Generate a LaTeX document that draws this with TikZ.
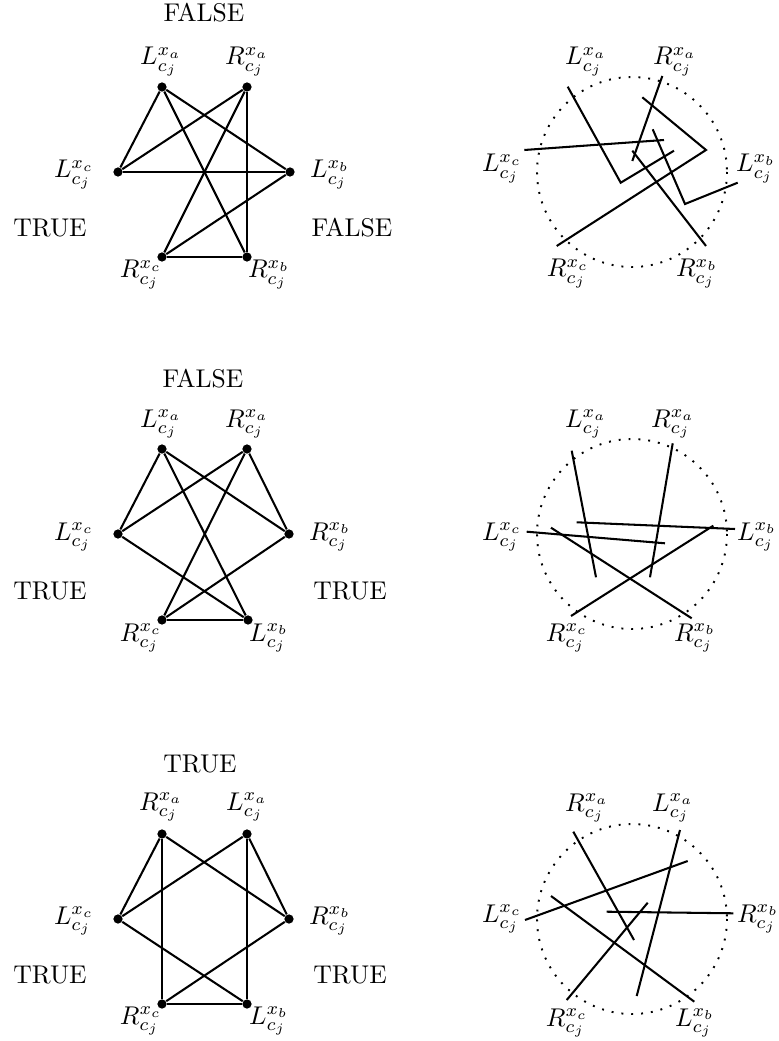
\documentclass[tikz,border=0pt]{standalone}
\begin{document}
\begin{tikzpicture}[x=0.39pt,y=-0.39pt,
  vert/.style={circle,fill=black,inner sep=0pt,minimum size=3.6pt},
  edge/.style={line width=0.8pt},
  seg/.style={line width=0.8pt},
  lab/.style={anchor=base,inner sep=0pt},
  word/.style={anchor=base,inner sep=0pt},
  ring/.style={line width=0.75pt,dash pattern=on 0.75pt off 3.1pt}]
\useasboundingbox (0,0) rectangle (778,1041);

% ---------------- Row 1 left ----------------
\node[vert] (p1La) at (162,87) {};
\node[vert] (p1Ra) at (247,87) {};
\node[vert] (p1Lc) at (118,172) {};
\node[vert] (p1Lb) at (290,172) {};
\node[vert] (p1Rc) at (162,257) {};
\node[vert] (p1Rb) at (247,257) {};
\draw[edge] (p1La) -- (p1Lc);
\draw[edge] (p1La) -- (p1Lb);
\draw[edge] (p1La) -- (p1Rb);
\draw[edge] (p1Ra) -- (p1Lc);
\draw[edge] (p1Ra) -- (p1Rc);
\draw[edge] (p1Ra) -- (p1Rb);
\draw[edge] (p1Lc) -- (p1Lb);
\draw[edge] (p1Lb) -- (p1Rc);
\draw[edge] (p1Rc) -- (p1Rb);
\node[lab] (t1La) at (161,65) {$L^{x_a}_{c_j}$};
\node[lab] (t1Ra) at (247,65) {$R^{x_a}_{c_j}$};
\node[lab] (t1Lc) at (74,178) {$L^{x_c}_{c_j}$};
\node[lab] (t1Lb) at (330,178) {$L^{x_b}_{c_j}$};
\node[lab] (t1Rc) at (141,278) {$R^{x_c}_{c_j}$};
\node[lab] (t1Rb) at (269,278) {$R^{x_b}_{c_j}$};
\node[word] (w1t) at (204,22) {FALSE};
\node[word] (w1l) at (50,237) {TRUE};
\node[word] (w1r) at (352,237) {FALSE};

% ---------------- Row 1 right ----------------
\draw[ring] (632,172) circle[radius=95];
\node[lab] (u1La) at (586,65) {$L^{x_a}_{c_j}$};
\node[lab] (u1Ra) at (675,65) {$R^{x_a}_{c_j}$};
\node[lab] (u1Lc) at (502,172) {$L^{x_c}_{c_j}$};
\node[lab] (u1Lb) at (756,172) {$L^{x_b}_{c_j}$};
\node[lab] (u1Rc) at (568,277) {$R^{x_c}_{c_j}$};
\node[lab] (u1Rb) at (697,277) {$R^{x_b}_{c_j}$};
\draw[seg] (567.7,86.7) -- (620.7,182.7) -- (674,150.7);
\draw[seg] (662.3,76) -- (632.3,161);
\draw[seg] (642.3,97.3) -- (706,150) -- (556.7,246);
\draw[seg] (524.3,150) -- (664,140);
\draw[seg] (652.7,129.3) -- (685,204) -- (737.7,182.7);
\draw[seg] (632.3,150.7) -- (706,246);

% ---------------- Row 2 left ----------------
\node[vert] (p2La) at (162,449) {};
\node[vert] (p2Ra) at (247,449) {};
\node[vert] (p2Lc) at (118,534) {};
\node[vert] (p2Rb) at (289,534) {};
\node[vert] (p2Rc) at (162,620) {};
\node[vert] (p2Lb) at (248,620) {};
\draw[edge] (p2La) -- (p2Lc);
\draw[edge] (p2La) -- (p2Rb);
\draw[edge] (p2La) -- (p2Lb);
\draw[edge] (p2Ra) -- (p2Lc);
\draw[edge] (p2Ra) -- (p2Rc);
\draw[edge] (p2Ra) -- (p2Rb);
\draw[edge] (p2Lc) -- (p2Lb);
\draw[edge] (p2Rb) -- (p2Rc);
\draw[edge] (p2Rc) -- (p2Lb);
\node[lab] (t2La) at (161,427) {$L^{x_a}_{c_j}$};
\node[lab] (t2Ra) at (247,427) {$R^{x_a}_{c_j}$};
\node[lab] (t2Lc) at (74,540) {$L^{x_c}_{c_j}$};
\node[lab] (t2Rb) at (330,540) {$R^{x_b}_{c_j}$};
\node[lab] (t2Rc) at (141,641) {$R^{x_c}_{c_j}$};
\node[lab] (t2Lb) at (269,641) {$L^{x_b}_{c_j}$};
\node[word] (w2t) at (203,387) {FALSE};
\node[word] (w2l) at (50,599) {TRUE};
\node[word] (w2r) at (350,599) {TRUE};

% ---------------- Row 2 right ----------------
\draw[ring] (632,534) circle[radius=95];
\node[lab] (u2La) at (586,427) {$L^{x_a}_{c_j}$};
\node[lab] (u2Ra) at (673,427) {$R^{x_a}_{c_j}$};
\node[lab] (u2Lc) at (502,540) {$L^{x_c}_{c_j}$};
\node[lab] (u2Lb) at (757,540) {$L^{x_b}_{c_j}$};
\node[lab] (u2Rc) at (567,641) {$R^{x_c}_{c_j}$};
\node[lab] (u2Rb) at (695,641) {$R^{x_b}_{c_j}$};
\draw[seg] (571.7,450.7) -- (596,577.3);
\draw[seg] (672.7,443.3) -- (650,577.3);
\draw[seg] (576.7,522.3) -- (735,529);
\draw[seg] (526.7,531.7) -- (665,543.3);
\draw[seg] (551,527.7) -- (691.7,618.3);
\draw[seg] (713.3,525.7) -- (571,616);

% ---------------- Row 3 left ----------------
\node[vert] (p3Ra) at (162,834) {};
\node[vert] (p3La) at (247,834) {};
\node[vert] (p3Lc) at (118,919) {};
\node[vert] (p3Rb) at (289,919) {};
\node[vert] (p3Rc) at (162,1004) {};
\node[vert] (p3Lb) at (247,1004) {};
\draw[edge] (p3Ra) -- (p3Lc);
\draw[edge] (p3Ra) -- (p3Rb);
\draw[edge] (p3Ra) -- (p3Rc);
\draw[edge] (p3La) -- (p3Lc);
\draw[edge] (p3La) -- (p3Rb);
\draw[edge] (p3La) -- (p3Lb);
\draw[edge] (p3Lc) -- (p3Lb);
\draw[edge] (p3Rb) -- (p3Rc);
\draw[edge] (p3Rc) -- (p3Lb);
\node[lab] (t3Ra) at (161,810) {$R^{x_a}_{c_j}$};
\node[lab] (t3La) at (247,810) {$L^{x_a}_{c_j}$};
\node[lab] (t3Lc) at (74,924) {$L^{x_c}_{c_j}$};
\node[lab] (t3Rb) at (330,924) {$R^{x_b}_{c_j}$};
\node[lab] (t3Rc) at (141,1024) {$R^{x_c}_{c_j}$};
\node[lab] (t3Lb) at (269,1024) {$L^{x_b}_{c_j}$};
\node[word] (w3t) at (200,772) {TRUE};
\node[word] (w3l) at (50,983) {TRUE};
\node[word] (w3r) at (350,983) {TRUE};

% ---------------- Row 3 right ----------------
\draw[ring] (632,919) circle[radius=95];
\node[lab] (u3Ra) at (587,811) {$R^{x_a}_{c_j}$};
\node[lab] (u3La) at (673,811) {$L^{x_a}_{c_j}$};
\node[lab] (u3Lc) at (502,922) {$L^{x_c}_{c_j}$};
\node[lab] (u3Rb) at (758,922) {$R^{x_b}_{c_j}$};
\node[lab] (u3Rc) at (567,1026) {$R^{x_c}_{c_j}$};
\node[lab] (u3Lb) at (695,1026) {$L^{x_b}_{c_j}$};
\draw[seg] (573.3,831.7) -- (634,940);
\draw[seg] (680,830) -- (636.7,996);
\draw[seg] (525,920) -- (687.7,861);
\draw[seg] (606.7,911.7) -- (733.3,913.3);
\draw[seg] (551,896) -- (694.3,1001.7);
\draw[seg] (647.7,902.7) -- (566.7,1000);
\end{tikzpicture}
\end{document}
